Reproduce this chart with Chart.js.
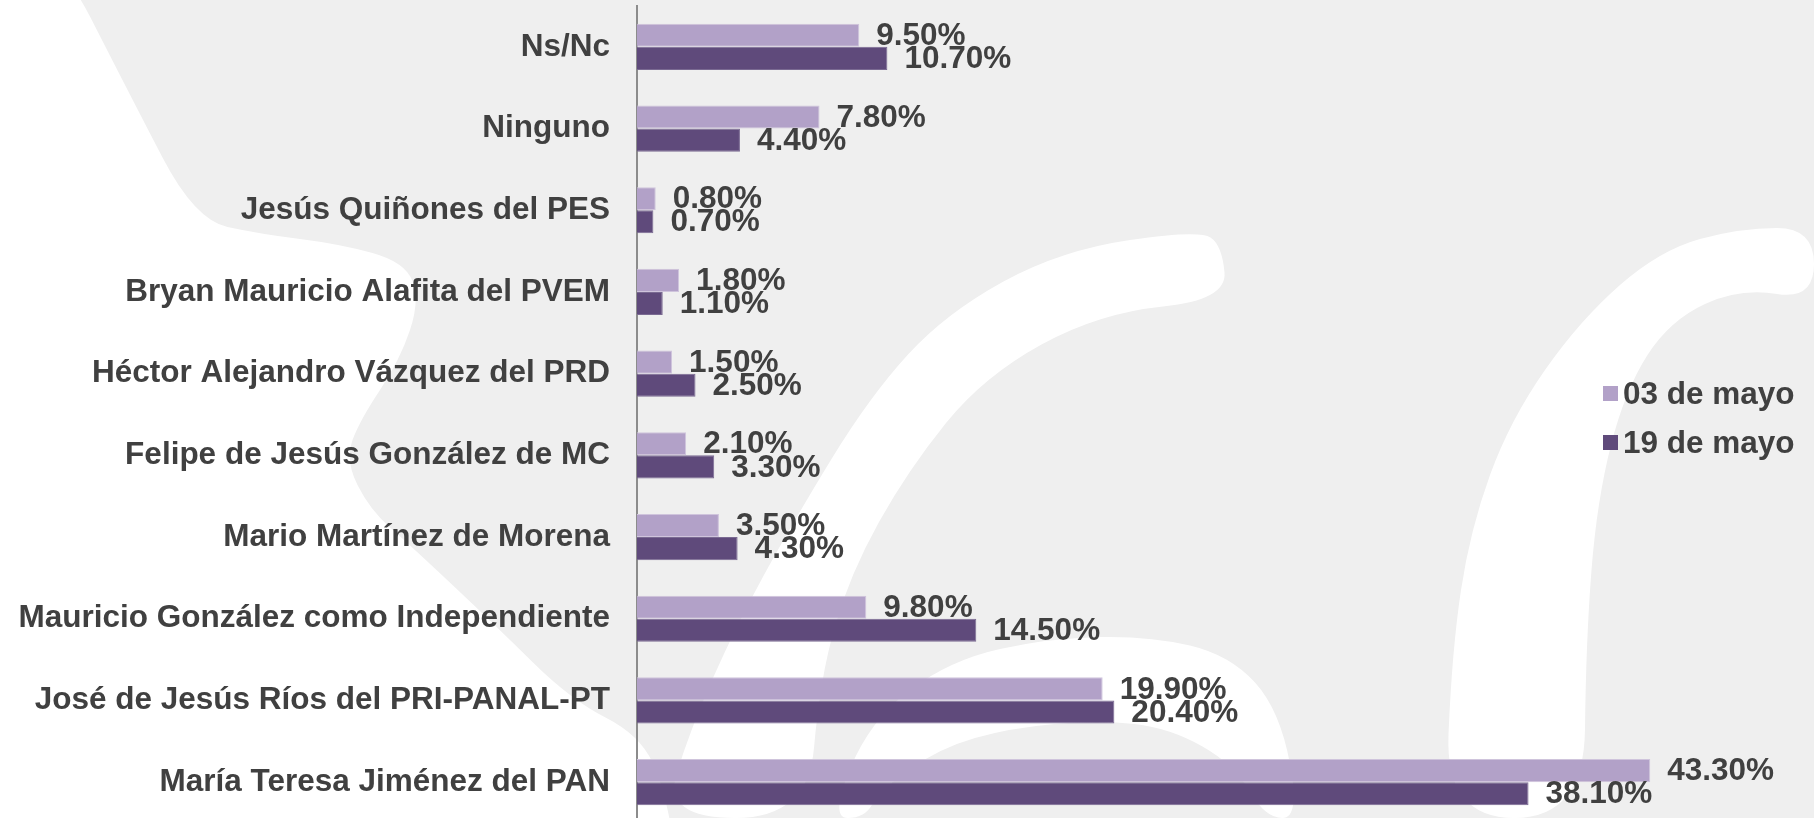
<!DOCTYPE html>
<html>
<head>
  <title>Intención de voto</title>
  <script src="https://cdn.jsdelivr.net/npm/chart.js"></script>
  <style>
    body { margin: 0; background: #efefef; overflow: hidden; font-family: 'Liberation Sans', Arial, sans-serif; }
    #wrap { position: absolute; left: 0; top: 0; width: 1814px; height: 830px; }
    #legend { position: absolute; left: 1603px; top: 369px; color: #404040; font-weight: bold; font-size: 31.5px; }
    #legend div { height: 49px; display: flex; align-items: center; }
    #legend span.box { width: 15px; height: 15px; margin-right: 5px; display: inline-block; }
  </style>
</head>
<body>
  <div id="wrap"><canvas id="pollChart"></canvas></div>
  <div id="legend"></div>

  <script>
    const candidates = [
      'Ns/Nc',
      'Ninguno',
      'Jesús Quiñones del PES',
      'Bryan Mauricio Alafita del PVEM',
      'Héctor Alejandro Vázquez del PRD',
      'Felipe de Jesús González de MC',
      'Mario Martínez de Morena',
      'Mauricio González como Independiente',
      'José de Jesús Ríos del PRI-PANAL-PT',
      'María Teresa Jiménez del PAN'
    ];
    const mayo03 = [9.5, 7.8, 0.8, 1.8, 1.5, 2.1, 3.5, 9.8, 19.9, 43.3];
    const mayo19 = [10.7, 4.4, 0.7, 1.1, 2.5, 3.3, 4.3, 14.5, 20.4, 38.1];
    const seriesNames = ['03 de mayo', '19 de mayo'];
    const seriesColors = ['#b2a1c8', '#5f4a7b'];

    const FONT = "'Liberation Sans', Arial, sans-serif";

    // white watermark shapes behind the chart (slide background)
    const watermark = [
      // left side
      [[-60,-60],[-60,-60],[51,-60],[130,95],[195,220],[260,234],[340,244],[405,262],[420,300],[400,360],
       [360,420],[345,460],[370,510],[410,545],[495,625],[571,700],[640,735],[665,790],[680,880],
       [680,880],[-60,880],[-60,880]],
      // big "c" on the right
      [[1814,228],[1740,228],[1660,250],[1580,320],[1510,420],[1470,530],[1452,650],[1445,818],
       [1584,818],[1586,640],[1597,500],[1625,390],[1670,320],[1740,288],[1814,300]],
      // swoosh in the middle
      [[663,818],[690,730],[736,626],[793,522],[870,396],[946,313],[1061,250],[1199,230],[1222,245],
       [1227,300],[1099,313],[984,376],[908,470],[850,574],[820,678],[808,818]],
      // arch at the bottom
      [[830,818],[870,720],[950,660],[1050,638],[1150,636],[1230,655],[1280,710],[1300,818],
       [1265,818],[1235,765],[1170,728],[1099,720],[1010,728],[940,748],[880,790],[865,818]]
    ];

    function smoothShape(ctx, pts) {
      ctx.beginPath();
      const n = pts.length;
      const mid = (a, b) => [(a[0] + b[0]) / 2, (a[1] + b[1]) / 2];
      let m = mid(pts[n - 1], pts[0]);
      ctx.moveTo(m[0], m[1]);
      for (let i = 0; i < n; i++) {
        const p = pts[i], q = pts[(i + 1) % n];
        m = mid(p, q);
        ctx.quadraticCurveTo(p[0], p[1], m[0], m[1]);
      }
      ctx.closePath();
      ctx.fill();
    }

    const background = {
      id: 'background',
      beforeDraw(chart) {
        const ctx = chart.ctx;
        ctx.save();
        ctx.fillStyle = '#ffffff';
        watermark.forEach(s => smoothShape(ctx, s));
        ctx.restore();
      }
    };

    // value labels at the end of each bar
    const barLabels = {
      id: 'barLabels',
      afterDatasetsDraw(chart) {
        const ctx = chart.ctx;
        ctx.save();
        ctx.font = 'bold 31.5px ' + FONT;
        ctx.fillStyle = '#404040';
        ctx.textAlign = 'left';
        ctx.textBaseline = 'middle';
        chart.data.datasets.forEach((ds, di) => {
          chart.getDatasetMeta(di).data.forEach((bar, i) => {
            ctx.fillText(ds.data[i].toFixed(2) + '%', bar.x + 17, bar.y + 1);
          });
        });
        ctx.restore();
      }
    };

    new Chart(document.getElementById('pollChart'), {
      type: 'bar',
      data: {
        labels: candidates,
        datasets: [
          { label: seriesNames[0], data: mayo03, backgroundColor: seriesColors[0], borderColor: '#cfc4dc', borderWidth: 1, borderSkipped: 'start' },
          { label: seriesNames[1], data: mayo19, backgroundColor: seriesColors[1], borderColor: '#7a6a92', borderWidth: 1, borderSkipped: 'start' }
        ]
      },
      options: {
        indexAxis: 'y',
        responsive: true,
        maintainAspectRatio: false,
        animation: false,
        layout: { padding: { top: 6, bottom: 7, right: 7, left: 0 } },
        datasets: { bar: { barPercentage: 1, categoryPercentage: 0.565 } },
        plugins: {
          legend: { display: false },
          tooltip: { enabled: false }
        },
        scales: {
          x: { display: false, min: 0, max: 50 },
          y: {
            afterFit(scale) {
              scale.width = 637;
              scale.paddingTop = 0;
              scale.paddingBottom = 0;
            },
            grid: { display: false, drawTicks: false },
            border: { display: true, color: '#8c8c8c', width: 2 },
            ticks: {
              padding: 27,
              color: '#404040',
              font: { family: FONT, size: 31.5, weight: 'bold' }
            }
          }
        }
      },
      plugins: [background, barLabels]
    });

    // legend
    const legend = document.getElementById('legend');
    seriesNames.forEach((name, i) => {
      const row = document.createElement('div');
      row.innerHTML = `<span class="box" style="background:${seriesColors[i]}"></span>${name}`;
      legend.appendChild(row);
    });
  </script>
</body>
</html>
